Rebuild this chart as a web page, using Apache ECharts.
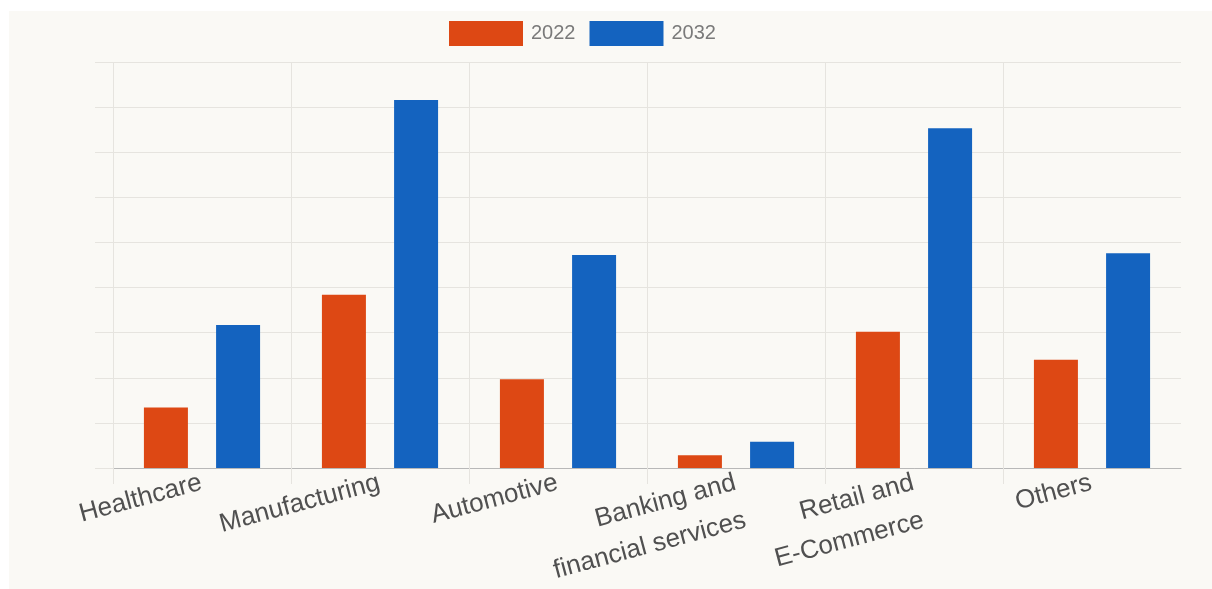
<!DOCTYPE html>
<html>
<head>
<meta charset="utf-8">
<script src="https://cdn.jsdelivr.net/npm/echarts@6/dist/echarts.min.js"></script>
<style>
  html, body { margin: 0; padding: 0; background: #ffffff; }
  #chart { position: absolute; left: 9px; top: 11px; width: 1203px; height: 578px; background: #faf9f5; }
</style>
</head>
<body>
<div id="chart"></div>
<script>
// Market size by end-use sector
const categories = ['Healthcare', 'Manufacturing', 'Automotive', 'Banking and\nfinancial services', 'Retail and\nE-Commerce', 'Others'];
const values2022 = [13.4, 38.4, 19.7, 2.8, 30.2, 24.0];
const values2032 = [31.7, 81.6, 47.2, 5.8, 75.3, 47.6];
const seriesNames = ['2022', '2032'];

const gridColor = '#e6e4df';
const chart = echarts.init(document.getElementById('chart'), null, { renderer: 'canvas' });

const plotRect = { left: 104, top: 51, height: 406 };

chart.setOption({
  animation: false,
  backgroundColor: 'transparent',
  legend: {
    left: 440,
    top: 10,
    padding: 0,
    itemWidth: 74,
    itemHeight: 25,
    itemGap: 14,
    icon: 'rect',
    textStyle: { color: '#7a7a7a', fontSize: 20, fontFamily: 'Liberation Sans, Arial, sans-serif', padding: [0, 0, 0, 3] },
    data: seriesNames
  },
  grid: [
    { left: plotRect.left, top: plotRect.top, height: plotRect.height, right: 31, containLabel: false, outerBoundsMode: 'none' },
    // vertical category separators (left edge through the last inner boundary)
    { left: plotRect.left, top: plotRect.top, height: plotRect.height, width: 890, containLabel: false, outerBoundsMode: 'none' }
  ],
  xAxis: [
    {
      type: 'category',
      gridIndex: 0,
      data: categories,
      axisLine: { show: true, lineStyle: { color: '#b8b8b8', width: 1 } },
      axisTick: { show: false },
      splitLine: { show: false },
      axisLabel: {
        interval: 0,
        rotate: 15,
        margin: -6,
        verticalAlign: 'top',
        padding: [0, 6, 0, 0],
        color: '#505050',
        fontSize: 26,
        lineHeight: 39,
        fontFamily: 'Liberation Sans, Arial, sans-serif'
      }
    },
    {
      type: 'category',
      gridIndex: 1,
      data: categories,
      boundaryGap: false,
      axisLine: { show: false },
      axisLabel: { show: false },
      axisTick: { show: true, interval: 0, length: 16, lineStyle: { color: gridColor } },
      splitLine: { show: true, interval: 0, lineStyle: { color: gridColor, width: 1 } }
    }
  ],
  yAxis: [
    {
      type: 'value',
      gridIndex: 0,
      min: 0,
      max: 90,
      interval: 10,
      axisLabel: { show: false },
      axisLine: { show: false },
      axisTick: { show: true, length: 18, lineStyle: { color: gridColor } },
      splitLine: { show: true, lineStyle: { color: gridColor, width: 1 } }
    },
    {
      type: 'value',
      gridIndex: 1,
      min: 0,
      max: 90,
      show: false,
      splitLine: { show: false }
    }
  ],
  series: [
    {
      name: seriesNames[0],
      type: 'bar',
      xAxisIndex: 0,
      yAxisIndex: 0,
      data: values2022,
      barWidth: 44,
      barGap: '64%',
      itemStyle: { color: '#dd4814' }
    },
    {
      name: seriesNames[1],
      type: 'bar',
      xAxisIndex: 0,
      yAxisIndex: 0,
      data: values2032,
      barWidth: 44,
      barGap: '64%',
      itemStyle: { color: '#1463bf' }
    }
  ]
});
</script>
</body>
</html>
